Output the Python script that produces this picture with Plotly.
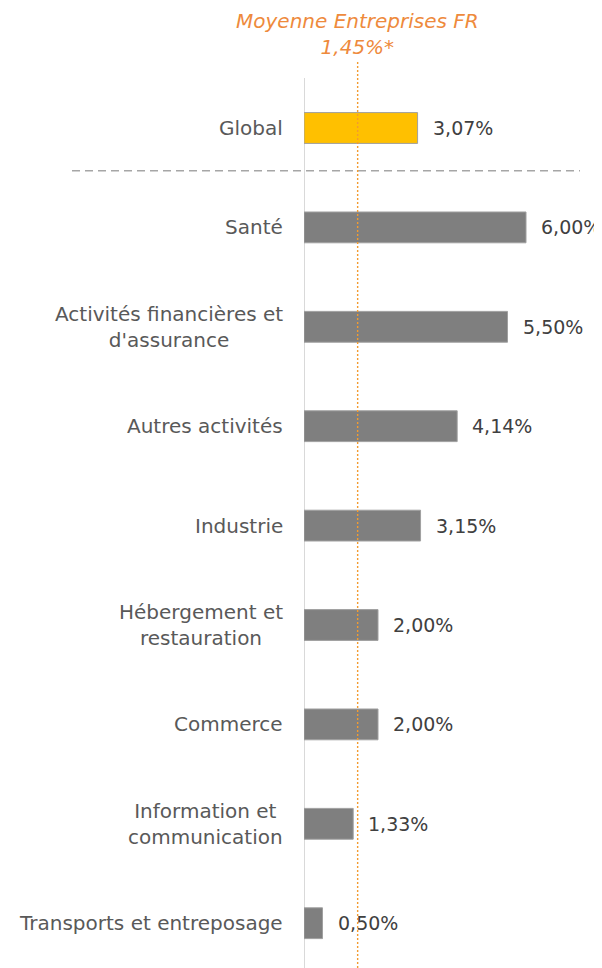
import plotly.graph_objects as go

categories = ["Global", "Santé", "Activités financières et<br>d'assurance", "Autres activités",
              "Industrie", "Hébergement et<br>restauration", "Commerce",
              "Information et<br>communication", "Transports et entreposage"]
values = [3.07, 6.00, 5.50, 4.14, 3.15, 2.00, 2.00, 1.33, 0.50]
bar_colors = ["#FFC000"] + ["#7F7F7F"] * 8
avg_value = 1.45
avg_label = "Moyenne Entreprises FR<br>1,45%*"

# page body has an 8px margin: compensate so the drawing lines up with the window
OFF = 8
W, H = 602 - OFF, 968 - OFF
L, R, T, B = 304 - OFF, 18, 78 - OFF, 0
px_per_unit = 37.0
x_max = (W - L - R) / px_per_unit
row_px = 99.4
plot_h = H - T - B
y_top = -50.0 / row_px
y_bottom = y_top + plot_h / row_px
font_family = "DejaVu Sans"

positions = list(range(len(categories)))

fig = go.Figure()
fig.add_trace(go.Bar(
    x=values, y=positions, orientation="h",
    marker=dict(color=bar_colors, line=dict(color="#A0A0A0", width=1)),
    width=0.31, hoverinfo="skip",
))

annotations = []
for p, c, v in zip(positions, categories, values):
    annotations.append(dict(x=0, y=p, xref="x", yref="y", text=c, showarrow=False,
                            xanchor="right", yanchor="middle", align="center", xshift=-19,
                            font=dict(family=font_family, size=20, color="#595959")))
    annotations.append(dict(x=v, y=p, xref="x", yref="y",
                            text=f"{v:.2f}".replace(".", ",") + "%", showarrow=False,
                            xanchor="left", yanchor="middle", xshift=13,
                            font=dict(family=font_family, size=19, color="#404040")))
annotations.append(dict(x=avg_value, y=1, xref="x", yref="paper", yshift=T + 1,
                        text="<i>" + avg_label + "</i>", showarrow=False,
                        xanchor="center", yanchor="top", align="center",
                        font=dict(family=font_family, size=20, color="#EE8A3C")))

shapes = [
    # vertical axis line
    dict(type="line", xref="x", yref="paper", x0=0, x1=0, y0=0, y1=1,
         line=dict(color="#D9D9D9", width=2), layer="below"),
    # average dotted line
    dict(type="line", xref="x", yref="paper", x0=avg_value, x1=avg_value, y0=0,
         y1=1 + 18 / plot_h, line=dict(color="#F29B30", width=1.4, dash="2px,2px"),
         layer="above"),
    # separator
    dict(type="line", xref="paper", yref="y", x0=(72 - 304) / (W - L - R),
         x1=(580 - 304) / (W - L - R), y0=0.43, y1=0.43,
         line=dict(color="#A6A6A6", width=1.5, dash="8px,5px"), layer="below"),
]

fig.update_layout(
    width=W, height=H, margin=dict(l=L, r=R, t=T, b=B, pad=0),
    paper_bgcolor="white", plot_bgcolor="white", showlegend=False,
    xaxis=dict(range=[0, x_max], visible=False, fixedrange=True),
    yaxis=dict(range=[y_bottom, y_top], visible=False, fixedrange=True),
    annotations=annotations, shapes=shapes,
    font=dict(family=font_family),
)

fig.write_html("out.html")
